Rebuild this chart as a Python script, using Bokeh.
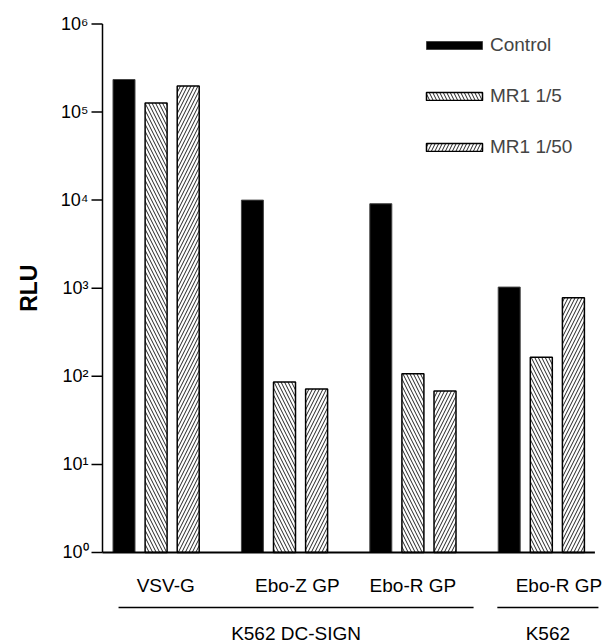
import math
from bokeh.plotting import figure
from bokeh.models import Range1d, Legend, LegendItem, ColumnDataSource
from bokeh.embed import file_html
from bokeh.resources import INLINE
from bokeh.core.properties import value

# ---------------- data ----------------
groups = ["VSV-G", "Ebo-Z GP", "Ebo-R GP", "Ebo-R GP"]
cell_lines = ["K562 DC-SIGN", "K562"]
cell_line_groups = [[0, 1, 2], [3]]
series = ["Control", "MR1 1/5", "MR1 1/50"]
control = [2.34e5, 1.0e4, 9.1e3, 1.03e3]
mr1_5 = [1.27e5, 86, 107, 165]
mr1_50 = [1.98e5, 72, 68, 778]
y_ticks = [1, 10, 100, 1000, 10000, 100000, 1000000]
y_tick_labels = ["10\u2070", "10\u00b9", "10\u00b2", "10\u00b3", "10\u2074", "10\u2075", "10\u2076"]
y_title = "RLU"

# ---------------- layout (style) ----------------
STEP = 4            # bar slots per group
BAR_W = 0.685
FONT = "Liberation Sans"
TXT = "19px"
PX = 32.1           # pixels per x unit
X0, X1 = -0.67, 14.67   # extent of the axes
label_dx = [0.3, 0.4, 0.0, 0.55]
W, H = 606, 643

# whole canvas is the frame; axes are drawn by hand
p = figure(width=W, height=H, y_axis_type="log",
           x_range=Range1d(X0 - 102 / PX, X0 + (W - 102) / PX),
           y_range=Range1d(10 ** -1.033, 10 ** 6.266),
           output_backend="svg", toolbar_location=None,
           x_axis_location=None, y_axis_location=None,
           min_border=0)
p.outline_line_color = None
p.xgrid.visible = False
p.ygrid.visible = False
p.background_fill_color = "white"
p.border_fill_color = "white"

y0 = y_ticks[0]
y_top = y_ticks[-1]

# bars
styles = [
    dict(fill_color="black", line_color="#444444", line_width=1),
    dict(fill_color="white", line_color="black", line_width=1.5, hatch_pattern="\\",
         hatch_color="#222222", hatch_scale=7, hatch_weight=1),
    dict(fill_color="white", line_color="black", line_width=1.5, hatch_pattern="/",
         hatch_color="#222222", hatch_scale=7, hatch_weight=1),
]
items = []
for b, (name, vals, st) in enumerate(zip(series, [control, mr1_5, mr1_50], styles)):
    src = ColumnDataSource(dict(x=[g * STEP + b for g in range(len(groups))], top=vals))
    r = p.vbar(x="x", top="top", bottom=y0, width=BAR_W, source=src, **st)
    items.append(LegendItem(label=name, renderers=[r]))

# y axis: line, ticks, labels
p.segment(x0=[X0], x1=[X0], y0=[y0], y1=[y_top], line_color="black", line_width=1.5)
p.segment(x0=[X0 - 11 / PX] * len(y_ticks), x1=[X0] * len(y_ticks),
          y0=y_ticks, y1=y_ticks, line_color="black", line_width=1.5)
p.text(x=[X0 - 14 / PX] * len(y_ticks), y=y_ticks, text=y_tick_labels,
       text_align="right", text_baseline="middle", text_font=value(FONT),
       text_font_size="18px", text_color="black")
p.text(x=[X0 - 74 / PX], y=[math.sqrt(y0 * y_top)], text=[y_title], angle=math.pi / 2,
       text_align="center", text_baseline="middle", text_font=value(FONT),
       text_font_style="bold", text_font_size="23px", text_color="black")

# x baseline
p.segment(x0=[X0], x1=[X1], y0=[y0], y1=[y0], line_color="black", line_width=2)

# group labels
gx = [g * STEP + 1 + d for g, d in enumerate(label_dx)]
p.text(x=gx, y=[10 ** -0.375] * len(groups), text=groups, text_align="center",
       text_baseline="middle", text_font=value(FONT), text_font_size=TXT,
       text_color="black")

# cell-line brackets
x0s, x1s, cx = [], [], []
for gl in cell_line_groups:
    if len(gl) > 1:
        lo = min(gl) * STEP - 0.17
        hi = max(gl) * STEP + 2 + 0.89
    else:
        lo = min(gl) * STEP - 0.37
        hi = max(gl) * STEP + 2 + 0.78
    x0s.append(lo); x1s.append(hi); cx.append((lo + hi) / 2)
p.segment(x0=x0s, x1=x1s, y0=[10 ** -0.624] * 2, y1=[10 ** -0.624] * 2,
          line_color="black", line_width=1.5)
p.text(x=cx, y=[10 ** -0.915] * 2, text=cell_lines, text_align="center",
       text_baseline="middle", text_font=value(FONT), text_font_size=TXT,
       text_color="black")

legend = Legend(items=items, location=(419, 485), orientation="vertical",
                glyph_width=70, glyph_height=10, label_standoff=1, spacing=29,
                padding=0, margin=0, border_line_color=None,
                background_fill_alpha=0, label_text_font=FONT,
                label_text_font_size=TXT, label_height=16)
p.add_layout(legend)

open("out.html", "w").write(file_html(p, INLINE))
